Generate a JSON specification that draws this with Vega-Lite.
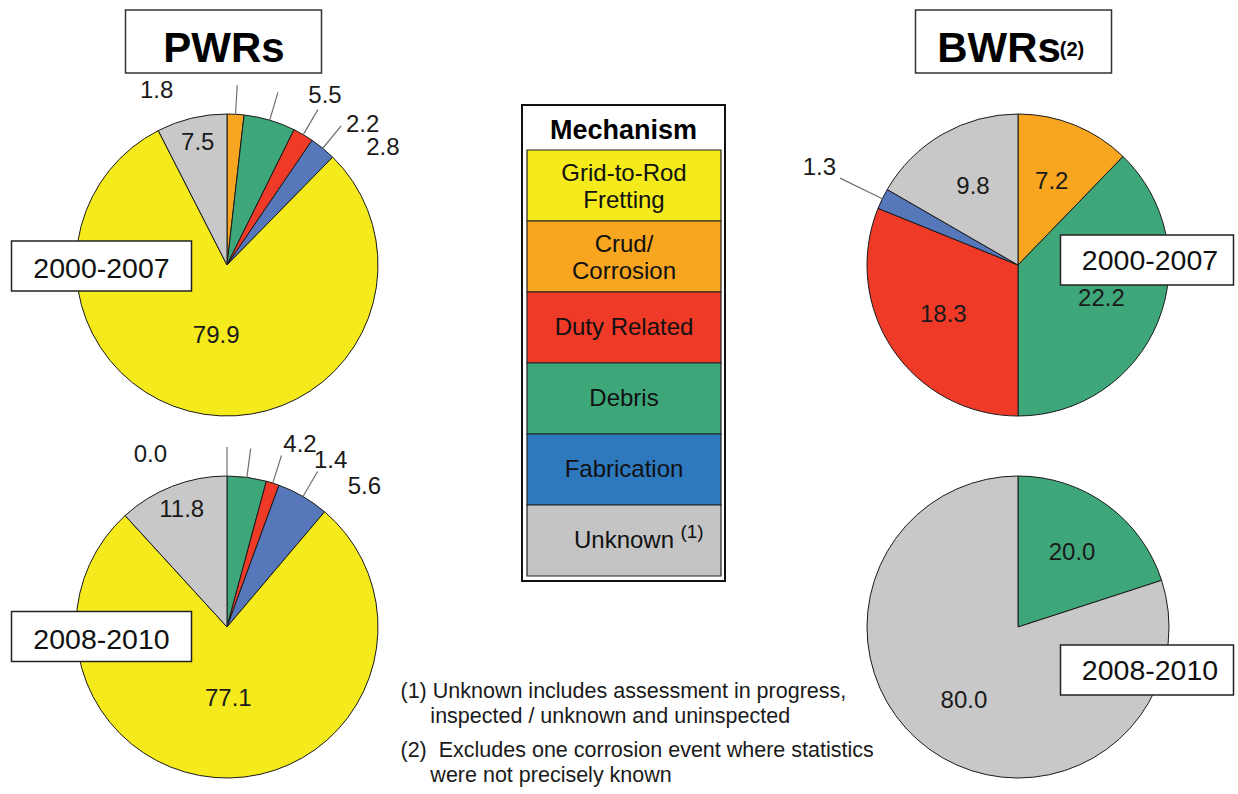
{
  "$schema": "https://vega.github.io/schema/vega-lite/v6.json",
  "width": 1238,
  "height": 794,
  "autosize": {"type": "fit", "contains": "padding"},
  "padding": 0,
  "background": "white",
  "config": {"view": {"stroke": null}, "font": "Liberation Sans", "text": {"font": "Liberation Sans"}},
  "datasets": {
    "pies": [
      {"reactor": "PWRs", "period": "2000-2007", "mechanism": "Crud/Corrosion", "order": 1, "value": 1.8},
      {"reactor": "PWRs", "period": "2000-2007", "mechanism": "Debris", "order": 2, "value": 5.5},
      {"reactor": "PWRs", "period": "2000-2007", "mechanism": "Duty Related", "order": 3, "value": 2.2},
      {"reactor": "PWRs", "period": "2000-2007", "mechanism": "Fabrication", "order": 4, "value": 2.8},
      {"reactor": "PWRs", "period": "2000-2007", "mechanism": "Grid-to-Rod Fretting", "order": 5, "value": 79.9},
      {"reactor": "PWRs", "period": "2000-2007", "mechanism": "Unknown", "order": 6, "value": 7.5},
      {"reactor": "PWRs", "period": "2008-2010", "mechanism": "Crud/Corrosion", "order": 1, "value": 0.0},
      {"reactor": "PWRs", "period": "2008-2010", "mechanism": "Debris", "order": 2, "value": 4.2},
      {"reactor": "PWRs", "period": "2008-2010", "mechanism": "Duty Related", "order": 3, "value": 1.4},
      {"reactor": "PWRs", "period": "2008-2010", "mechanism": "Fabrication", "order": 4, "value": 5.6},
      {"reactor": "PWRs", "period": "2008-2010", "mechanism": "Grid-to-Rod Fretting", "order": 5, "value": 77.1},
      {"reactor": "PWRs", "period": "2008-2010", "mechanism": "Unknown", "order": 6, "value": 11.8},
      {"reactor": "BWRs", "period": "2000-2007", "mechanism": "Crud/Corrosion", "order": 1, "value": 7.2},
      {"reactor": "BWRs", "period": "2000-2007", "mechanism": "Debris", "order": 2, "value": 22.2},
      {"reactor": "BWRs", "period": "2000-2007", "mechanism": "Duty Related", "order": 3, "value": 18.3},
      {"reactor": "BWRs", "period": "2000-2007", "mechanism": "Fabrication", "order": 4, "value": 1.3},
      {"reactor": "BWRs", "period": "2000-2007", "mechanism": "Unknown", "order": 6, "value": 9.8},
      {"reactor": "BWRs", "period": "2008-2010", "mechanism": "Debris", "order": 2, "value": 20.0},
      {"reactor": "BWRs", "period": "2008-2010", "mechanism": "Unknown", "order": 6, "value": 80.0}
    ],
    "legend": [
      {"mechanism": "Grid-to-Rod Fretting", "label": "Grid-to-Rod\nFretting", "sup": ""},
      {"mechanism": "Crud/Corrosion", "label": "Crud/\nCorrosion", "sup": ""},
      {"mechanism": "Duty Related", "label": "Duty Related", "sup": ""},
      {"mechanism": "Debris", "label": "Debris", "sup": ""},
      {"mechanism": "Fabrication", "label": "Fabrication", "sup": ""},
      {"mechanism": "Unknown", "label": "Unknown", "sup": "(1)"}
    ],
    "header": [{"header": "Mechanism"}],
    "periods": [
      {"reactor": "PWRs", "period": "2000-2007"},
      {"reactor": "PWRs", "period": "2008-2010"},
      {"reactor": "BWRs", "period": "2000-2007"},
      {"reactor": "BWRs", "period": "2008-2010"}
    ],
    "titles": [
      {"reactor": "PWRs", "sup": ""},
      {"reactor": "BWRs", "sup": "(2)"}
    ],
    "notes": [
      {"note": "(1)", "text": "(1) Unknown includes assessment in progress,\n\u200b\u00a0\u00a0\u00a0\u00a0\u00a0inspected / unknown and uninspected"},
      {"note": "(2)", "text": "(2)\u00a0 Excludes one corrosion event where statistics\n\u200b\u00a0\u00a0\u00a0\u00a0\u00a0were not precisely known"}
    ]
  },
  "resolve": {"scale": {"x": "independent", "y": "independent", "color": "independent"}},
  "layer": [
    {
      "data": {"name": "pies"},
      "encoding": {
        "x": {"field": "reactor", "type": "nominal", "axis": null, "scale": {"type": "point", "domain": ["PWRs", "BWRs"], "range": [227, 1018], "padding": 0}},
        "y": {"field": "period", "type": "nominal", "axis": null, "scale": {"type": "point", "domain": ["2000-2007", "2008-2010"], "range": [265, 627], "padding": 0}},
        "theta": {"field": "value", "type": "quantitative", "stack": "normalize"},
        "order": {"field": "order", "type": "quantitative"}
      },
      "layer": [
        {
          "transform": [{"filter": "datum.reactor == 'PWRs' && datum.period == '2000-2007'"}],
          "layer": [
            {"mark": {"type": "arc", "outerRadius": 151, "stroke": "#1a1a1a", "strokeWidth": 1},
             "encoding": {"color": {"field": "mechanism", "type": "nominal", "legend": null, "scale": {"domain": ["Grid-to-Rod Fretting", "Crud/Corrosion", "Duty Related", "Debris", "Fabrication", "Unknown"], "range": ["#F4EA1C", "#F8A51F", "#EE3A27", "#3DA77A", "#5677B9", "#C8C8C8"]}}}},
            {"mark": {"type": "arc", "innerRadius": 151, "outerRadius": 180, "padAngle": 1.2, "fillOpacity": 0, "stroke": "#707070", "strokeWidth": 1.2},
             "encoding": {"strokeOpacity": {"condition": {"test": "datum.value < 6", "value": 1}, "value": 0}}},
            {"mark": {"type": "text", "radius": 125, "fontSize": 24, "color": "#1a1a1a"},
             "encoding": {"text": {"field": "value", "type": "quantitative", "format": ".1f"}, "opacity": {"condition": {"test": "datum.value >= 6 && datum.value < 50", "value": 1}, "value": 0}}},
            {"mark": {"type": "text", "radius": 72, "fontSize": 24, "color": "#1a1a1a"},
             "encoding": {"text": {"field": "value", "type": "quantitative", "format": ".1f"}, "opacity": {"condition": {"test": "datum.value >= 50", "value": 1}, "value": 0}}},
            {"mark": {"type": "text", "radius": 195, "thetaOffset": 0.24, "fontSize": 24, "color": "#1a1a1a"},
             "encoding": {"text": {"field": "value", "type": "quantitative", "format": ".1f"}, "opacity": {"condition": {"test": "datum.value < 6 && datum.mechanism != 'Crud/Corrosion'", "value": 1}, "value": 0}}},
            {"mark": {"type": "text", "radius": 188, "thetaOffset": -0.44, "fontSize": 24, "color": "#1a1a1a"},
             "encoding": {"text": {"field": "value", "type": "quantitative", "format": ".1f"}, "opacity": {"condition": {"test": "datum.value < 6 && datum.mechanism == 'Crud/Corrosion'", "value": 1}, "value": 0}}}
          ]
        },
        {
          "transform": [{"filter": "datum.reactor == 'PWRs' && datum.period == '2008-2010'"}],
          "layer": [
            {"mark": {"type": "arc", "outerRadius": 151, "stroke": "#1a1a1a", "strokeWidth": 1},
             "encoding": {"color": {"field": "mechanism", "type": "nominal", "legend": null, "scale": {"domain": ["Grid-to-Rod Fretting", "Crud/Corrosion", "Duty Related", "Debris", "Fabrication", "Unknown"], "range": ["#F4EA1C", "#F8A51F", "#EE3A27", "#3DA77A", "#5677B9", "#C8C8C8"]}}}},
            {"mark": {"type": "arc", "innerRadius": 151, "outerRadius": 180, "padAngle": 1.2, "fillOpacity": 0, "stroke": "#707070", "strokeWidth": 1.2},
             "encoding": {"strokeOpacity": {"condition": {"test": "datum.value < 6", "value": 1}, "value": 0}}},
            {"mark": {"type": "text", "radius": 125, "fontSize": 24, "color": "#1a1a1a"},
             "encoding": {"text": {"field": "value", "type": "quantitative", "format": ".1f"}, "opacity": {"condition": {"test": "datum.value >= 6 && datum.value < 50", "value": 1}, "value": 0}}},
            {"mark": {"type": "text", "radius": 72, "fontSize": 24, "color": "#1a1a1a"},
             "encoding": {"text": {"field": "value", "type": "quantitative", "format": ".1f"}, "opacity": {"condition": {"test": "datum.value >= 50", "value": 1}, "value": 0}}},
            {"mark": {"type": "text", "radius": 196, "thetaOffset": 0.25, "fontSize": 24, "color": "#1a1a1a"},
             "encoding": {"text": {"field": "value", "type": "quantitative", "format": ".1f"}, "opacity": {"condition": {"test": "datum.value < 6 && datum.mechanism != 'Crud/Corrosion'", "value": 1}, "value": 0}}},
            {"mark": {"type": "text", "radius": 188, "thetaOffset": -0.42, "fontSize": 24, "color": "#1a1a1a"},
             "encoding": {"text": {"field": "value", "type": "quantitative", "format": ".1f"}, "opacity": {"condition": {"test": "datum.value < 6 && datum.mechanism == 'Crud/Corrosion'", "value": 1}, "value": 0}}}
          ]
        },
        {
          "transform": [{"filter": "datum.reactor == 'BWRs' && datum.period == '2000-2007'"}],
          "layer": [
            {"mark": {"type": "arc", "outerRadius": 151, "stroke": "#1a1a1a", "strokeWidth": 1},
             "encoding": {"color": {"field": "mechanism", "type": "nominal", "legend": null, "scale": {"domain": ["Grid-to-Rod Fretting", "Crud/Corrosion", "Duty Related", "Debris", "Fabrication", "Unknown"], "range": ["#F4EA1C", "#F8A51F", "#EE3A27", "#3DA77A", "#5677B9", "#C8C8C8"]}}}},
            {"mark": {"type": "arc", "innerRadius": 151, "outerRadius": 198, "padAngle": 1.2, "fillOpacity": 0, "stroke": "#707070", "strokeWidth": 1.2},
             "encoding": {"strokeOpacity": {"condition": {"test": "datum.value < 6", "value": 1}, "value": 0}}},
            {"mark": {"type": "text", "radius": 90, "fontSize": 24, "color": "#1a1a1a"},
             "encoding": {"text": {"field": "value", "type": "quantitative", "format": ".1f"}, "opacity": {"condition": {"test": "datum.value >= 6", "value": 1}, "value": 0}}},
            {"mark": {"type": "text", "radius": 221, "fontSize": 24, "color": "#1a1a1a"},
             "encoding": {"text": {"field": "value", "type": "quantitative", "format": ".1f"}, "opacity": {"condition": {"test": "datum.value < 6", "value": 1}, "value": 0}}}
          ]
        },
        {
          "transform": [{"filter": "datum.reactor == 'BWRs' && datum.period == '2008-2010'"}],
          "layer": [
            {"mark": {"type": "arc", "outerRadius": 151, "stroke": "#1a1a1a", "strokeWidth": 1},
             "encoding": {"color": {"field": "mechanism", "type": "nominal", "legend": null, "scale": {"domain": ["Grid-to-Rod Fretting", "Crud/Corrosion", "Duty Related", "Debris", "Fabrication", "Unknown"], "range": ["#F4EA1C", "#F8A51F", "#EE3A27", "#3DA77A", "#5677B9", "#C8C8C8"]}}}},
            {"mark": {"type": "text", "radius": 92, "fontSize": 24, "color": "#1a1a1a"},
             "encoding": {"text": {"field": "value", "type": "quantitative", "format": ".1f"}}}
          ]
        }
      ]
    },
    {
      "data": {"name": "periods"},
      "transform": [{"filter": "datum.reactor == 'PWRs'"}],
      "encoding": {
        "x": {"field": "reactor", "type": "nominal", "axis": null, "scale": {"type": "point", "domain": ["PWRs", "BWRs"], "range": [101.5, 1147], "padding": 0}},
        "y": {"field": "period", "type": "nominal", "axis": null, "scale": {"type": "point", "domain": ["2000-2007", "2008-2010"], "range": [266, 636.5], "padding": 0}}
      },
      "layer": [
        {"mark": {"type": "rect", "width": 180, "height": 50, "fill": "white", "stroke": "#222", "strokeWidth": 1.5}},
        {"mark": {"type": "text", "fontSize": 28.5, "dy": 3, "color": "#111"}, "encoding": {"text": {"field": "period"}}}
      ]
    },
    {
      "data": {"name": "periods"},
      "transform": [{"filter": "datum.reactor == 'BWRs'"}],
      "encoding": {
        "x": {"field": "reactor", "type": "nominal", "axis": null, "scale": {"type": "point", "domain": ["PWRs", "BWRs"], "range": [101.5, 1147], "padding": 0}},
        "y": {"field": "period", "type": "nominal", "axis": null, "scale": {"type": "point", "domain": ["2000-2007", "2008-2010"], "range": [260, 670], "padding": 0}}
      },
      "layer": [
        {"mark": {"type": "rect", "width": 173, "height": 50, "fill": "white", "stroke": "#222", "strokeWidth": 1.5}},
        {"mark": {"type": "text", "fontSize": 28.5, "dx": 3, "dy": 1, "color": "#111"}, "encoding": {"text": {"field": "period"}}}
      ]
    },
    {
      "data": {"name": "header"},
      "mark": {"type": "rect", "fill": "white", "stroke": "#111", "strokeWidth": 2},
      "encoding": {
        "x": {"field": "header", "type": "nominal", "axis": null, "scale": {"type": "band", "domain": ["Mechanism"], "range": [522, 725], "paddingInner": 0, "paddingOuter": 0}},
        "y": {"field": "header", "type": "nominal", "axis": null, "scale": {"type": "band", "domain": ["Mechanism"], "range": [105, 581], "paddingInner": 0, "paddingOuter": 0}}
      }
    },
    {
      "data": {"name": "header"},
      "mark": {"type": "text", "fontSize": 27, "fontWeight": "bold", "color": "#000"},
      "encoding": {
        "x": {"field": "header", "type": "nominal", "axis": null, "scale": {"type": "band", "domain": ["Mechanism"], "range": [522, 725], "paddingInner": 0, "paddingOuter": 0}},
        "y": {"field": "header", "type": "nominal", "axis": null, "scale": {"type": "band", "domain": ["Mechanism"], "range": [107, 155], "paddingInner": 0, "paddingOuter": 0}},
        "text": {"field": "header"}
      }
    },
    {
      "data": {"name": "legend"},
      "encoding": {
        "x": {"datum": "key", "type": "nominal", "axis": null, "scale": {"type": "band", "domain": ["key"], "range": [527, 721], "paddingInner": 0, "paddingOuter": 0}},
        "y": {"field": "mechanism", "type": "nominal", "axis": null, "scale": {"type": "band", "domain": ["Grid-to-Rod Fretting", "Crud/Corrosion", "Duty Related", "Debris", "Fabrication", "Unknown"], "range": [150, 576], "paddingInner": 0, "paddingOuter": 0}}
      },
      "layer": [
        {"mark": {"type": "rect", "stroke": "#222", "strokeWidth": 1.2},
         "encoding": {"color": {"field": "mechanism", "type": "nominal", "legend": null, "scale": {"domain": ["Grid-to-Rod Fretting", "Crud/Corrosion", "Duty Related", "Debris", "Fabrication", "Unknown"], "range": ["#F4EA1C", "#F8A51F", "#EE3A27", "#3DA77A", "#2E78BE", "#C4C4C4"]}}}},
        {"mark": {"type": "text", "fontSize": 24, "color": "#111"},
         "encoding": {"text": {"field": "label"}, "opacity": {"condition": {"test": "indexof(datum.label, '\\n') < 0", "value": 1}, "value": 0}}},
        {"mark": {"type": "text", "fontSize": 24, "lineBreak": "\n", "lineHeight": 27, "dy": -12, "color": "#111"},
         "encoding": {"text": {"field": "label"}, "opacity": {"condition": {"test": "indexof(datum.label, '\\n') >= 0", "value": 1}, "value": 0}}},
        {"mark": {"type": "text", "fontSize": 19, "dx": 68, "dy": -9, "color": "#111"},
         "encoding": {"text": {"field": "sup"}}}
      ]
    },
    {
      "data": {"name": "titles"},
      "mark": {"type": "rect", "width": 196, "fill": "white", "stroke": "#333", "strokeWidth": 1.5},
      "encoding": {
        "x": {"field": "reactor", "type": "nominal", "axis": null, "scale": {"type": "point", "domain": ["PWRs", "BWRs"], "range": [223.5, 1013.5], "padding": 0}},
        "y": {"datum": "head", "type": "nominal", "axis": null, "scale": {"type": "band", "domain": ["head"], "range": [10, 73], "paddingInner": 0, "paddingOuter": 0}}
      }
    },
    {
      "data": {"name": "titles"},
      "encoding": {
        "x": {"field": "reactor", "type": "nominal", "axis": null, "scale": {"type": "point", "domain": ["PWRs", "BWRs"], "range": [224, 999], "padding": 0}},
        "y": {"datum": "head", "type": "nominal", "axis": null, "scale": {"type": "band", "domain": ["head"], "range": [18, 80], "paddingInner": 0, "paddingOuter": 0}}
      },
      "layer": [
        {"mark": {"type": "text", "fontSize": 42, "fontWeight": "bold", "color": "#000"}, "encoding": {"text": {"field": "reactor"}}},
        {"mark": {"type": "text", "fontSize": 20, "fontWeight": "bold", "dx": 73, "dy": 1, "color": "#000"}, "encoding": {"text": {"field": "sup"}}}
      ]
    },
    {
      "data": {"name": "notes"},
      "mark": {"type": "text", "align": "left", "baseline": "alphabetic", "fontSize": 21.5, "lineBreak": "\n", "lineHeight": 25, "color": "#1a1a1a"},
      "encoding": {
        "x": {"datum": "notes", "type": "nominal", "axis": null, "scale": {"type": "point", "domain": ["notes"], "range": [400, 401], "padding": 0}},
        "y": {"field": "note", "type": "nominal", "axis": null, "scale": {"type": "point", "domain": ["(1)", "(2)"], "range": [698, 757], "padding": 0}},
        "text": {"field": "text"}
      }
    }
  ]
}
